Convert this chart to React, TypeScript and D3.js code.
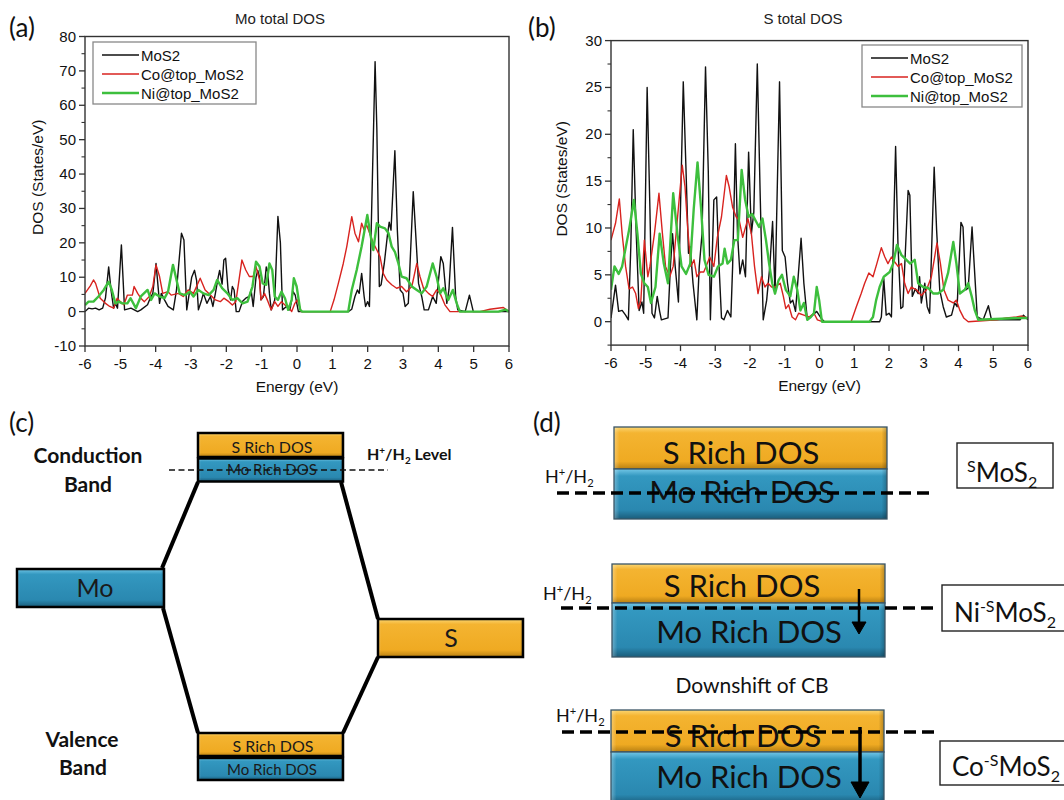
import React from 'react';
import * as d3 from 'd3';

type Pt = [number, number];

// ---------- tick labels / categories ----------
const energyTicks = [-6, -5, -4, -3, -2, -1, 0, 1, 2, 3, 4, 5, 6];
const moTicks = [-10, 0, 10, 20, 30, 40, 50, 60, 70, 80];
const sTicks = [0, 5, 10, 15, 20, 25, 30];
const seriesNames = ['MoS2', 'Co@top_MoS2', 'Ni@top_MoS2'];
const seriesColors = ['#111111', '#d8231f', '#3dbf3d'];
const seriesWidths = [1.4, 1.4, 2.4];

// ---------- (a) Mo total DOS ----------
const moDos_MoS2: Pt[] = [[-6,0],[-5.9,1],[-5.8,0.8],[-5.7,1],[-5.6,0.5],[-5.5,1],[-5.42,4],[-5.33,13],[-5.26,6],[-5.19,1],[-5.14,2.4],[-5.08,1],[-4.97,19.4],[-4.88,0.5],[-4.7,1],[-4.51,0],[-4.42,0.5],[-4.23,2],[-4.15,4],[-4.08,5.3],[-3.99,14],[-3.89,2.4],[-3.84,5.3],[-3.75,3.4],[-3.65,1.5],[-3.5,0.5],[-3.41,6.3],[-3.27,22.8],[-3.2,20.8],[-3.12,0.5],[-2.98,10],[-2.9,12],[-2.84,9],[-2.79,0.5],[-2.7,3.4],[-2.65,5.3],[-2.55,2.4],[-2.45,4.4],[-2.38,1.5],[-2.31,5.3],[-2.23,10],[-2.19,12],[-2.12,8],[-2.07,15],[-2.02,15.5],[-1.95,6.3],[-1.88,3.4],[-1.83,7.3],[-1.78,6.3],[-1.72,0],[-1.64,0],[-1.54,3],[-1.45,3.9],[-1.35,4.4],[-1.3,6.3],[-1.24,1.5],[-1.16,10],[-1.11,12],[-1.06,10],[-1.02,3.4],[-0.95,4.4],[-0.87,13],[-0.83,11.6],[-0.78,5.3],[-0.73,0.5],[-0.63,3.4],[-0.54,27.7],[-0.47,20],[-0.41,0.5],[-0.3,1.5],[-0.2,0.5],[-0.11,5.8],[-0.05,4.8],[0.04,0],[1.45,0],[1.55,0.7],[1.64,4.4],[1.71,6.3],[1.76,5.3],[1.83,11.1],[1.9,4.4],[1.94,1.5],[2.0,2.9],[2.05,1.5],[2.21,72.7],[2.26,53],[2.33,7.3],[2.38,7.8],[2.47,14],[2.56,22.3],[2.61,26],[2.66,23.7],[2.77,46.8],[2.84,23.7],[2.92,6.3],[3.0,5.3],[3.06,1.5],[3.15,2.4],[3.29,34.9],[3.38,19],[3.44,8.2],[3.53,4.4],[3.6,0.5],[3.72,0.5],[3.84,4.4],[3.94,2.4],[4.07,16],[4.14,14],[4.24,2.4],[4.3,6.3],[4.4,24.5],[4.49,4.4],[4.55,0.5],[4.76,0],[4.88,4.8],[4.99,0],[6,0]];
const moDos_Co: Pt[] = [[-6,5.3],[-5.85,7.5],[-5.76,9.2],[-5.7,8.2],[-5.57,3.9],[-5.42,2.4],[-5.3,1.5],[-5.19,1],[-5.09,3.9],[-5.0,2.9],[-4.9,2],[-4.8,4.8],[-4.66,4.8],[-4.61,7.3],[-4.51,5.3],[-4.42,3.9],[-4.32,2.9],[-4.18,4.4],[-4.08,7.3],[-3.99,13.6],[-3.89,10.2],[-3.8,5.3],[-3.65,5.8],[-3.56,4.8],[-3.36,5.3],[-3.22,4.4],[-3.08,6.3],[-2.93,5.3],[-2.74,9.7],[-2.6,6.3],[-2.45,4.8],[-2.31,3.4],[-2.17,2.9],[-2.07,3.9],[-1.93,2.9],[-1.83,1.9],[-1.73,2.9],[-1.56,15],[-1.45,12.1],[-1.35,10.2],[-1.24,10.2],[-1.16,13.1],[-1.06,9.2],[-1.02,3.4],[-0.92,5.3],[-0.82,2.9],[-0.73,0.5],[-0.63,2.9],[-0.54,1.5],[-0.44,2.9],[-0.34,1.9],[-0.25,1.5],[-0.15,0],[-0.06,2.4],[0.01,3.4],[0.12,0],[0.94,0],[1.05,3.5],[1.17,8.2],[1.31,14],[1.41,19],[1.55,27.6],[1.64,22.8],[1.74,20.3],[1.83,25.7],[1.9,23.7],[1.97,25.2],[2.05,23],[2.16,19.9],[2.26,17.9],[2.35,16],[2.44,11.1],[2.54,9.2],[2.68,7.8],[2.82,6.8],[2.96,7.3],[3.1,5.8],[3.25,7.3],[3.39,14],[3.48,10.2],[3.58,6.8],[3.72,5.3],[3.84,4.4],[3.95,6.3],[4.05,5.3],[4.19,1.9],[4.33,0],[5.18,0],[5.46,0.7],[5.84,1.2],[6,0]];
const moDos_Ni: Pt[] = [[-6,1.9],[-5.9,2.9],[-5.76,2.9],[-5.62,4.4],[-5.47,6.3],[-5.33,8.7],[-5.24,6.3],[-5.14,2.4],[-5.04,2.9],[-4.95,2.4],[-4.8,2.4],[-4.71,3.9],[-4.56,1],[-4.42,4.4],[-4.23,6.3],[-4.13,3.4],[-4.03,5.3],[-3.89,4.4],[-3.75,3.9],[-3.65,5.8],[-3.51,13.6],[-3.41,9.2],[-3.32,5.3],[-3.17,4.8],[-3.03,5.8],[-2.93,4.4],[-2.79,6.3],[-2.65,5.3],[-2.5,4.8],[-2.36,6.3],[-2.26,9.2],[-2.12,6.8],[-1.97,5.3],[-1.83,3.4],[-1.69,3.9],[-1.54,2.4],[-1.4,2.9],[-1.26,7.3],[-1.16,14.5],[-1.06,13.1],[-0.97,8.2],[-0.87,7.8],[-0.78,14],[-0.7,12.1],[-0.63,4.4],[-0.54,3.4],[-0.44,5.8],[-0.34,3.9],[-0.25,0.5],[-0.15,3.4],[-0.09,9.7],[-0.01,7.3],[0.09,0.5],[0.15,0],[1.45,0],[1.55,6.3],[1.69,12.1],[1.83,19],[1.93,24.7],[1.99,28.1],[2.07,22.8],[2.16,17.9],[2.26,25.7],[2.35,24.7],[2.49,24.2],[2.59,22.8],[2.68,18.9],[2.77,17.4],[2.87,14],[2.96,10.2],[3.1,9.7],[3.25,7.3],[3.39,6.3],[3.53,5.3],[3.67,7.3],[3.84,14],[3.95,10.2],[4.05,5.3],[4.14,6.8],[4.28,3.4],[4.41,6.3],[4.52,2.4],[4.61,0],[5.7,0],[5.9,0.6],[6,0]];

// ---------- (b) S total DOS ----------
const sDos_MoS2: Pt[] = [[-6,0.4],[-5.87,3.9],[-5.78,1.1],[-5.68,1.2],[-5.58,0.7],[-5.5,0.2],[-5.43,8],[-5.36,20.5],[-5.28,10],[-5.19,1.2],[-5.11,2.1],[-5.06,0.9],[-4.96,25],[-4.88,12],[-4.82,0.9],[-4.75,0.4],[-4.67,2.7],[-4.6,1.1],[-4.55,0.2],[-4.36,0.4],[-4.29,5.9],[-4.23,9.4],[-4.16,6.2],[-4.06,2.1],[-3.92,25.6],[-3.84,16],[-3.77,7.3],[-3.72,8],[-3.64,4.1],[-3.53,0.2],[-3.46,5.9],[-3.38,9.4],[-3.28,27.2],[-3.2,16],[-3.14,0.2],[-3.04,13],[-2.96,13.3],[-2.89,5.9],[-2.82,0.4],[-2.75,0.2],[-2.65,1.2],[-2.55,0.5],[-2.5,5.9],[-2.42,19],[-2.36,9.4],[-2.29,5.1],[-2.21,6.6],[-2.13,4.8],[-2.04,18.1],[-1.96,9.4],[-1.89,11.7],[-1.79,27.5],[-1.71,14],[-1.62,0.2],[-1.52,2.3],[-1.43,5.9],[-1.35,10.7],[-1.28,3],[-1.15,25.6],[-1.07,7.6],[-0.99,6.9],[-0.92,4.1],[-0.84,2],[-0.77,2.3],[-0.69,1.1],[-0.53,8.9],[-0.45,4.1],[-0.35,0.2],[-0.2,0.7],[-0.08,1.1],[0.04,0.4],[0.14,0],[1.73,0],[1.78,0.5],[1.85,4.6],[1.92,0.7],[2.0,0.9],[2.07,0.5],[2.19,18.7],[2.26,8],[2.34,1.4],[2.4,1.6],[2.55,14],[2.6,13.5],[2.67,2.7],[2.76,3.5],[2.84,3],[2.88,4.8],[2.93,2],[3.03,4.1],[3.1,1.6],[3.17,0.9],[3.3,16.5],[3.37,9.8],[3.46,3.4],[3.56,1.6],[3.65,0.5],[3.8,0.7],[3.89,2],[3.96,1.6],[4.07,10.6],[4.13,10.1],[4.21,3.4],[4.28,3.6],[4.39,10.1],[4.45,6.2],[4.54,0.5],[4.71,0.2],[4.86,1.7],[4.95,0.2],[5.77,0.2],[5.87,0.7],[6,0.2]];
const sDos_Co: Pt[] = [[-6,8.7],[-5.87,10.5],[-5.76,13.1],[-5.68,9.4],[-5.58,5.9],[-5.48,3.5],[-5.38,3.7],[-5.29,3],[-5.21,1.4],[-5.14,2.3],[-5.04,8.7],[-4.94,4.8],[-4.88,5.9],[-4.75,9.4],[-4.62,13.7],[-4.52,9.4],[-4.43,5.9],[-4.31,4.8],[-4.21,5.9],[-4.11,10.1],[-3.95,16.7],[-3.87,14.4],[-3.79,9.8],[-3.7,5.9],[-3.61,6.6],[-3.53,4.8],[-3.43,5.3],[-3.33,5.3],[-3.23,6.2],[-3.16,6.9],[-3.04,5.9],[-2.94,9],[-2.82,11.2],[-2.68,15.6],[-2.6,14.4],[-2.5,12.2],[-2.4,11.2],[-2.31,10.8],[-2.21,9],[-2.06,11],[-1.96,9.4],[-1.87,5.9],[-1.77,3],[-1.67,4.8],[-1.57,3.7],[-1.48,4.1],[-1.38,3.7],[-1.28,3.7],[-1.13,4.1],[-1.04,2.7],[-0.97,1.4],[-0.89,1.8],[-0.79,0.5],[-0.69,0.2],[-0.6,0.9],[-0.45,0.7],[-0.3,0.5],[-0.16,0.9],[-0.06,0.2],[0.09,0],[0.91,0],[1.06,1.6],[1.2,3],[1.3,4.1],[1.42,5.2],[1.54,4.8],[1.65,6.2],[1.78,7.9],[1.88,6.9],[1.97,6.2],[2.07,6.9],[2.16,6.4],[2.26,5.9],[2.36,6.2],[2.45,4.1],[2.55,3],[2.64,3.7],[2.79,3.4],[2.93,2.8],[3.08,3.4],[3.22,4.8],[3.38,8.4],[3.48,6.2],[3.58,3.4],[3.7,2.3],[3.85,2],[3.94,2.3],[4.04,1.2],[4.15,0.4],[4.28,0],[5.1,0.2],[5.38,0.4],[5.67,0.5],[5.82,0.6],[6,0.4]];
const sDos_Ni: Pt[] = [[-6,3.4],[-5.9,5.9],[-5.78,5.1],[-5.68,5.9],[-5.48,9.8],[-5.34,13],[-5.24,9.4],[-5.14,5.1],[-5.04,4.1],[-4.94,3.7],[-4.85,2],[-4.72,3.7],[-4.6,9.4],[-4.48,6.2],[-4.36,4.1],[-4.21,13.7],[-4.09,9.4],[-3.97,5.9],[-3.84,5.1],[-3.72,6.2],[-3.62,12],[-3.51,17],[-3.41,12.2],[-3.31,6.6],[-3.19,5],[-3.04,4.8],[-2.92,5.9],[-2.79,6.2],[-2.73,7.8],[-2.65,6.2],[-2.55,6.6],[-2.45,8.7],[-2.35,8.7],[-2.24,16.2],[-2.14,13],[-2.04,11.2],[-1.94,11.5],[-1.84,10.8],[-1.74,10.1],[-1.64,11],[-1.54,8.7],[-1.45,6.2],[-1.36,4.1],[-1.28,3],[-1.18,4.4],[-1.08,5],[-0.97,3.4],[-0.84,2.7],[-0.74,4.8],[-0.64,3.4],[-0.55,1.2],[-0.45,2],[-0.35,0.2],[-0.25,0.5],[-0.16,0.9],[-0.08,3.7],[-0.01,2.3],[0.07,0],[1.44,0],[1.54,0.5],[1.63,2.3],[1.73,3.7],[1.85,4.8],[2.02,5.3],[2.12,6.2],[2.23,8.2],[2.36,7.1],[2.5,6.6],[2.61,6.2],[2.74,6.6],[2.84,4.1],[2.98,3.7],[3.13,3.6],[3.27,3],[3.41,3],[3.56,3.4],[3.7,5.2],[3.85,8.5],[3.94,6.2],[4.04,3],[4.18,3.4],[4.28,4.1],[4.38,2.7],[4.47,1.2],[4.57,0.2],[5.77,0.4],[6,0.4]];

const PLOT_FONT = '"Liberation Sans", Arial, sans-serif';
const DIAG_FONT = 'Lato, "Open Sans", sans-serif';

interface PanelProps {
  id: string;
  left: number; right: number; top: number; bottom: number;
  yDomain: [number, number]; yTicks: number[]; yMinor: number;
  series: Pt[][];
  title: string; titleX: number;
  legend: { x: number; y: number; w: number; h: number };
  yLabelX: number;
}

function DosPanel(p: PanelProps) {
  const x = d3.scaleLinear().domain([-6, 6]).range([p.left, p.right]);
  const y = d3.scaleLinear().domain(p.yDomain).range([p.bottom, p.top]);
  const line = d3.line<Pt>().x(d => x(d[0])).y(d => y(d[1]));
  const minors = d3.range(p.yDomain[0], p.yDomain[1] + 0.001, p.yMinor).filter(v => !p.yTicks.includes(v));
  const axisColor = '#333';
  return (
    <g fontFamily={PLOT_FONT}>
      <defs>
        <clipPath id={`clip-${p.id}`}>
          <rect x={p.left} y={p.top} width={p.right - p.left} height={p.bottom - p.top} />
        </clipPath>
      </defs>
      <text x={p.titleX} y={24} fontSize={15} textAnchor="middle" fill="#222">{p.title}</text>
      <g clipPath={`url(#clip-${p.id})`}>
        {p.series.map((s, i) => (
          <path key={i} d={line(s) || ''} fill="none" stroke={seriesColors[i]} strokeWidth={seriesWidths[i]} strokeLinejoin="round" />
        ))}
      </g>
      <rect x={p.left} y={p.top} width={p.right - p.left} height={p.bottom - p.top} fill="none" stroke={axisColor} strokeWidth={1.4} />
      {p.yTicks.map(t => (
        <g key={t}>
          <line x1={p.left - 6} x2={p.left} y1={y(t)} y2={y(t)} stroke={axisColor} strokeWidth={1.3} />
          <text x={p.left - 9} y={y(t) + 5} fontSize={15} textAnchor="end" fill="#111">{t}</text>
        </g>
      ))}
      {minors.map(t => (
        <line key={'m' + t} x1={p.left - 3.5} x2={p.left} y1={y(t)} y2={y(t)} stroke={axisColor} strokeWidth={1.1} />
      ))}
      {energyTicks.map(t => (
        <g key={t}>
          <line x1={x(t)} x2={x(t)} y1={p.bottom} y2={p.bottom + 6} stroke={axisColor} strokeWidth={1.3} />
          <text x={x(t)} y={p.bottom + 23} fontSize={15} textAnchor="middle" fill="#111">{t}</text>
        </g>
      ))}
      <text x={(p.left + p.right) / 2} y={p.bottom + 46} fontSize={15.5} textAnchor="middle" fill="#111">Energy (eV)</text>
      <text transform={`translate(${p.yLabelX},${(p.top + p.bottom) / 2 - 14}) rotate(-90)`} fontSize={15.5} textAnchor="middle" fill="#111">DOS (States/eV)</text>
      <rect x={p.legend.x} y={p.legend.y} width={p.legend.w} height={p.legend.h} fill="#fff" stroke="#888" strokeWidth={1.3} />
      {seriesNames.map((n, i) => {
        const ly = p.legend.y + 13 + i * 19;
        return (
          <g key={n}>
            <line x1={p.legend.x + 9} x2={p.legend.x + 46} y1={ly} y2={ly} stroke={seriesColors[i]} strokeWidth={seriesWidths[i]} />
            <text x={p.legend.x + 48} y={ly + 5.5} fontSize={15} fill="#111">{n}</text>
          </g>
        );
      })}
    </g>
  );
}

function Bevel({ x, y, w, h, kind, stroke, sw }: { x: number; y: number; w: number; h: number; kind: 'o' | 'b'; stroke: string; sw: number }) {
  return (
    <g>
      <rect x={x} y={y} width={w} height={h} fill={kind === 'o' ? 'url(#gOrange)' : 'url(#gBlue)'} />
      <rect x={x} y={y} width={w} height={h} fill="url(#gSide)" />
      <rect x={x} y={y} width={w} height={h} fill="none" stroke={stroke} strokeWidth={sw} />
    </g>
  );
}

function HH({ x, y, size = 18, bold = false, suffix = '' }: { x: number; y: number; size?: number; bold?: boolean; suffix?: string }) {
  return (
    <text x={x} y={y} fontSize={size} fontFamily={DIAG_FONT} fontWeight={bold ? 700 : 400} fill="#111">
      H<tspan dy={-size * 0.38} fontSize={size * 0.62}>+</tspan>
      <tspan dy={size * 0.38}>/H</tspan>
      <tspan dy={size * 0.22} fontSize={size * 0.62}>2</tspan>
      {suffix && <tspan dy={-size * 0.22}>{suffix}</tspan>}
    </text>
  );
}

function Label({ x, y, w, h, pre, tx, ty }: { x: number; y: number; w: number; h: number; pre: string; tx: number; ty: number }) {
  return (
    <g>
      <rect x={x} y={y} width={w} height={h} fill="#fff" stroke="#222" strokeWidth={1.4} />
      <text x={tx} y={ty} fontSize={26} fontFamily={DIAG_FONT} fill="#111">
        {pre}
        <tspan dy={-10} fontSize={16}>{pre ? '-S' : 'S'}</tspan>
        <tspan dy={10}>MoS</tspan>
        <tspan dy={6} fontSize={16}>2</tspan>
      </text>
    </g>
  );
}

export default function App() {
  const dash = '12 6';
  return (
    <svg width={1064} height={800} style={{ position: 'absolute', left: 0, top: 0, background: '#fff' }}>
      <defs>
        <linearGradient id="gOrange" x1="0" y1="0" x2="0" y2="1">
          <stop offset="0" stopColor="#fbd673" />
          <stop offset="0.14" stopColor="#f4b431" />
          <stop offset="0.82" stopColor="#efaa22" />
          <stop offset="1" stopColor="#b77f12" />
        </linearGradient>
        <linearGradient id="gBlue" x1="0" y1="0" x2="0" y2="1">
          <stop offset="0" stopColor="#72c6e6" />
          <stop offset="0.14" stopColor="#3398c0" />
          <stop offset="0.82" stopColor="#2a88b0" />
          <stop offset="1" stopColor="#1a5c7a" />
        </linearGradient>
        <linearGradient id="gSide" x1="0" y1="0" x2="1" y2="0">
          <stop offset="0" stopColor="#fff" stopOpacity="0.3" />
          <stop offset="0.02" stopColor="#fff" stopOpacity="0" />
          <stop offset="0.98" stopColor="#000" stopOpacity="0" />
          <stop offset="1" stopColor="#000" stopOpacity="0.25" />
        </linearGradient>
      </defs>

      {/* panel letters */}
      <g fontFamily={DIAG_FONT} fontSize={26} fill="#111">
        <text x={9} y={37}>(a)</text>
        <text x={528} y={37}>(b)</text>
        <text x={9} y={432}>(c)</text>
        <text x={533} y={432}>(d)</text>
      </g>

      <DosPanel id="a" left={85} right={509} top={36.5} bottom={346}
        yDomain={[-10, 80]} yTicks={moTicks} yMinor={5}
        series={[moDos_MoS2, moDos_Co, moDos_Ni]}
        title="Mo total DOS" titleX={280}
        legend={{ x: 93, y: 42, w: 163, h: 62 }} yLabelX={43} />
      <DosPanel id="b" left={611} right={1028} top={40.6} bottom={345.1}
        yDomain={[-2.5, 30]} yTicks={sTicks} yMinor={2.5}
        series={[sDos_MoS2, sDos_Co, sDos_Ni]}
        title="S total DOS" titleX={803}
        legend={{ x: 862, y: 45, w: 160, h: 62 }} yLabelX={567} />

      {/* ---------- (c) ---------- */}
      <g fontFamily={DIAG_FONT}>
        <g stroke="#000" strokeWidth={4} strokeLinejoin="round" fill="none">
          <polyline points="198,482 162,568" />
          <polyline points="163,608 198,733" />
          <polyline points="341,482 378,619" />
          <polyline points="378,657 343,733" />
        </g>
        <Bevel x={198} y={433} w={145} h={24} kind="o" stroke="#000" sw={2.5} />
        <Bevel x={198} y={458.5} w={145} h={23} kind="b" stroke="#000" sw={2.5} />
        <Bevel x={198} y={733} w={145} h={23} kind="o" stroke="#000" sw={2.5} />
        <Bevel x={198} y={758} w={145} h={22} kind="b" stroke="#000" sw={2.5} />
        <Bevel x={17} y={569} w={147} h={38} kind="b" stroke="#000" sw={2.5} />
        <Bevel x={378} y={619} w={145} h={38} kind="o" stroke="#000" sw={2.5} />
        <g fill="#1a1a1a" textAnchor="middle">
          <text x={272} y={453} fontSize={16}>S Rich DOS</text>
          <text x={272} y={475} fontSize={15}>Mo Rich DOS</text>
          <text x={273} y={752} fontSize={16}>S Rich DOS</text>
          <text x={272} y={775} fontSize={15}>Mo Rich DOS</text>
          <text x={95} y={597} fontSize={25}>Mo</text>
          <text x={451} y={647} fontSize={25}>S</text>
        </g>
        <g fill="#111" textAnchor="middle" fontWeight={700} fontSize={21}>
          <text x={88} y={463}>Conduction</text>
          <text x={88} y={492}>Band</text>
          <text x={82} y={747}>Valence</text>
          <text x={83} y={775}>Band</text>
        </g>
        <line x1={169} x2={388} y1={470} y2={470} stroke="#111" strokeWidth={1.4} strokeDasharray="6 3.5" />
        <HH x={367} y={460} size={16} bold suffix=" Level" />
      </g>

      {/* ---------- (d) ---------- */}
      <g fontFamily={DIAG_FONT}>
        <Bevel x={614} y={427} w={273} h={42} kind="o" stroke="#3a5566" sw={1.3} />
        <Bevel x={614} y={469} w={273} h={50} kind="b" stroke="#3a5566" sw={1.3} />
        <Bevel x={612} y={564} w={273} h={39} kind="o" stroke="#3a5566" sw={1.3} />
        <Bevel x={612} y={603} w={273} h={54} kind="b" stroke="#3a5566" sw={1.3} />
        <Bevel x={611} y={710} w={273} h={42} kind="o" stroke="#3a5566" sw={1.3} />
        <Bevel x={611} y={752} w={273} h={52} kind="b" stroke="#3a5566" sw={1.3} />
        <g fill="#111" textAnchor="middle" fontSize={31}>
          <text x={741} y={464}>S Rich DOS</text>
          <text x={742} y={503}>Mo Rich DOS</text>
          <text x={742} y={597}>S Rich DOS</text>
          <text x={749} y={643}>Mo Rich DOS</text>
          <text x={743} y={747}>S Rich DOS</text>
          <text x={749} y={788}>Mo Rich DOS</text>
        </g>
        <text x={752} y={693} fontSize={21} textAnchor="middle" fill="#111">Downshift of CB</text>
        <g stroke="#000" strokeWidth={3.5} strokeDasharray={dash}>
          <line x1={557} x2={934} y1={493} y2={493} />
          <line x1={561} x2={939} y1={608} y2={608} />
          <line x1={562} x2={939} y1={732} y2={732} />
        </g>
        <HH x={545} y={483} size={18} />
        <HH x={543} y={600} size={18} />
        <HH x={556} y={722} size={18} />
        <g stroke="#000" fill="#000">
          <line x1={859} x2={859} y1={589} y2={627} strokeWidth={2.5} />
          <polygon points="852,622 866,622 859,634" strokeWidth={1} />
          <line x1={860} x2={860} y1={727} y2={788} strokeWidth={3.5} />
          <polygon points="851,782 869,782 860,798" strokeWidth={1} />
        </g>
        <Label x={957} y={443} w={96} h={45} pre="" tx={967} ty={482} />
        <Label x={942} y={585} w={130} h={46} pre="Ni" tx={954} ty={622} />
        <Label x={940} y={741} w={130} h={44} pre="Co" tx={952} ty={776} />
      </g>
    </svg>
  );
}
